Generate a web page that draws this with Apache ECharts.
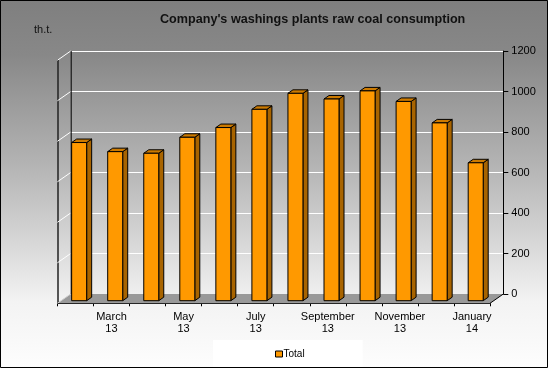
<!DOCTYPE html>
<html>
<head>
<meta charset="utf-8">
<script src="https://cdn.jsdelivr.net/npm/echarts@6/dist/echarts.min.js"></script>
<style>
html,body{margin:0;padding:0;background:#fff;}
#c{width:548px;height:368px;}
</style>
</head>
<body>
<div id="c"></div>
<script>
// ---- data ----
const months = ['February','March','April','May','June','July','August','September','October','November','December','January'];
const years  = ['13','13','13','13','13','13','13','13','13','13','13','14'];
const totals = [781, 736, 728, 807, 855, 945, 1024, 996, 1036, 984, 878, 681];
const yTicks = [0, 200, 400, 600, 800, 1000, 1200];
const seriesName = 'Total';
const titleText = "Company's washings plants raw coal consumption";
const unitText = 'th.t.';

const categories = months.map((m, i) => m + '\n' + years[i]);

// ---- styling / projection ----
const FONT = "'Liberation Sans', Arial, sans-serif";
const DX = -13.3, DY = 9.3;      // depth vector (back wall -> front edge)
const BAR_PLANE = 0.72;          // bar position in depth
const yMin = yTicks[0], yMax = yTicks[yTicks.length - 1], yStep = yTicks[1] - yTicks[0];

const chart = echarts.init(document.getElementById('c'), null, {renderer: 'canvas'});

function decorRender(params, api) {
  const cs = params.coordSys;
  const x0 = cs.x, x1 = cs.x + cs.width;
  const children = [];
  yTicks.forEach(v => {
    if (v === yMin) return;
    const p = api.coord([0, v]);
    children.push({type: 'line', shape: {x1: x0, y1: p[1], x2: x0 + DX, y2: p[1] + DY},
      style: {stroke: '#ffffff', lineWidth: 1}});
  });
  const b = api.coord([0, yMin])[1];
  children.push({type: 'polygon', shape: {points: [[x0, b], [x1, b], [x1 + DX, b + DY], [x0 + DX, b + DY]]},
    style: {fill: '#999999', stroke: null}});
  children.push({type: 'line', shape: {x1: x0, y1: b, x2: x0 + DX, y2: b + DY},
    style: {stroke: '#d0d0d0', lineWidth: 1}});
  children.push({type: 'line', shape: {x1: x1, y1: b, x2: x1 + DX, y2: b + DY},
    style: {stroke: '#000', lineWidth: 1}});
  const t = api.coord([0, yMax])[1];
  children.push({type: 'line', shape: {x1: x0 + 0.5, y1: t, x2: x0 + 0.5, y2: b},
    style: {stroke: '#000', lineWidth: 1}});
  return {type: 'group', children};
}

function barRender(params, api) {
  const i = api.value(0), v = api.value(1);
  const base = api.coord([i, yMin]);
  const top = api.coord([i, v]);
  const band = api.size([1, 0])[0];
  const w = band * 0.416, d = band * 0.139, dh = d * 0.7;
  const ox = DX * BAR_PLANE, oy = DY * BAR_PLANE;
  const cx = base[0] + ox, yb = base[1] + oy, yt = top[1] + oy;
  const l = cx - w / 2, r = cx + w / 2;
  const stroke = {stroke: '#000', lineWidth: 1};
  return {type: 'group', children: [
    {type: 'polygon', shape: {points: [[r, yt], [r + d, yt - dh], [r + d, yb - dh], [r, yb]]},
      style: Object.assign({fill: '#A86400'}, stroke)},
    {type: 'polygon', shape: {points: [[l, yt], [l + d, yt - dh], [r + d, yt - dh], [r, yt]]},
      style: Object.assign({fill: '#CC7A00'}, stroke)},
    {type: 'rect', shape: {x: l, y: yt, width: w, height: yb - yt},
      style: Object.assign({fill: '#FF9900'}, stroke)}
  ]};
}

const option = {
  animation: false,
  textStyle: {fontFamily: FONT},
  graphic: {elements: [
    {type: 'rect', z: -100, silent: true, shape: {x: 0, y: 0, width: 548, height: 368},
      style: {fill: new echarts.graphic.LinearGradient(0, 0, 0, 1, [
        {offset: 0, color: '#7f7f7f'},
        {offset: 0.15, color: '#888888'},
        {offset: 0.45, color: '#b4b4b4'},
        {offset: 0.7, color: '#dedede'},
        {offset: 0.82, color: '#f3f3f3'},
        {offset: 1, color: '#fdfdfd'}
      ])}},
    {type: 'rect', z: 100, silent: true, shape: {x: 0.5, y: 0.5, width: 547, height: 367},
      style: {fill: null, stroke: '#000', lineWidth: 1}}
  ]},
  title: [
    {text: titleText, left: 160, top: 13, padding: 0,
      textStyle: {fontFamily: FONT, fontSize: 12.6, fontWeight: 'bold', color: '#111'}},
    {text: unitText, left: 34, top: 24, padding: 0,
      textStyle: {fontFamily: FONT, fontSize: 11, fontWeight: 'normal', color: '#111'}}
  ],
  legend: {
    left: 213, top: 340, padding: [9, 58, 9, 62],
    backgroundColor: '#ffffff',
    itemWidth: 7, itemHeight: 6, itemGap: 0,
    textStyle: {fontFamily: FONT, fontSize: 10, color: '#000', padding: [0, 0, 0, -4]},
    data: [{name: seriesName, icon: 'rect', itemStyle: {color: '#FF9900', borderColor: '#000', borderWidth: 1}}]
  },
  grid: [
    {left: 70.7, top: 51, width: 432.6, height: 243, containLabel: false},
    {left: 57.4, top: 60.3, width: 432.6, height: 243, containLabel: false}
  ],
  xAxis: [
    {gridIndex: 0, type: 'category', data: categories, boundaryGap: true, show: false},
    {gridIndex: 1, type: 'category', data: categories, boundaryGap: true,
      axisLine: {show: true, lineStyle: {color: '#000', width: 1}},
      axisTick: {show: true, interval: 0, length: 3, lineStyle: {color: '#000'}},
      axisLabel: {interval: (idx) => idx % 2 === 1, fontFamily: FONT, fontSize: 11, lineHeight: 12,
        margin: 8, color: '#000'},
      splitLine: {show: false}}
  ],
  yAxis: [
    {gridIndex: 0, type: 'value', position: 'right', min: yMin, max: yMax, interval: yStep,
      axisLine: {show: true, lineStyle: {color: '#000', width: 1}},
      axisTick: {show: true, length: 5, lineStyle: {color: '#000'}},
      axisLabel: {fontFamily: FONT, fontSize: 11, color: '#000', margin: 8, formatter: (v) => String(v)},
      splitLine: {show: true, lineStyle: {color: '#ffffff', width: 1}}},
    {gridIndex: 1, type: 'value', position: 'left', min: yMin, max: yMax, interval: yStep,
      axisLine: {show: true, lineStyle: {color: '#222', width: 1.5}},
      axisTick: {show: false}, axisLabel: {show: false}, splitLine: {show: false}}
  ],
  series: [
    {type: 'custom', name: '_decor', xAxisIndex: 0, yAxisIndex: 0, silent: true, z: 1,
      renderItem: decorRender, data: [[0, 0]]},
    {type: 'custom', name: seriesName, xAxisIndex: 0, yAxisIndex: 0, z: 3,
      itemStyle: {color: '#FF9900', borderColor: '#000', borderWidth: 1},
      renderItem: barRender, encode: {x: 0, y: 1},
      data: totals.map((v, i) => [i, v])}
  ]
};
chart.setOption(option);
</script>
</body>
</html>
